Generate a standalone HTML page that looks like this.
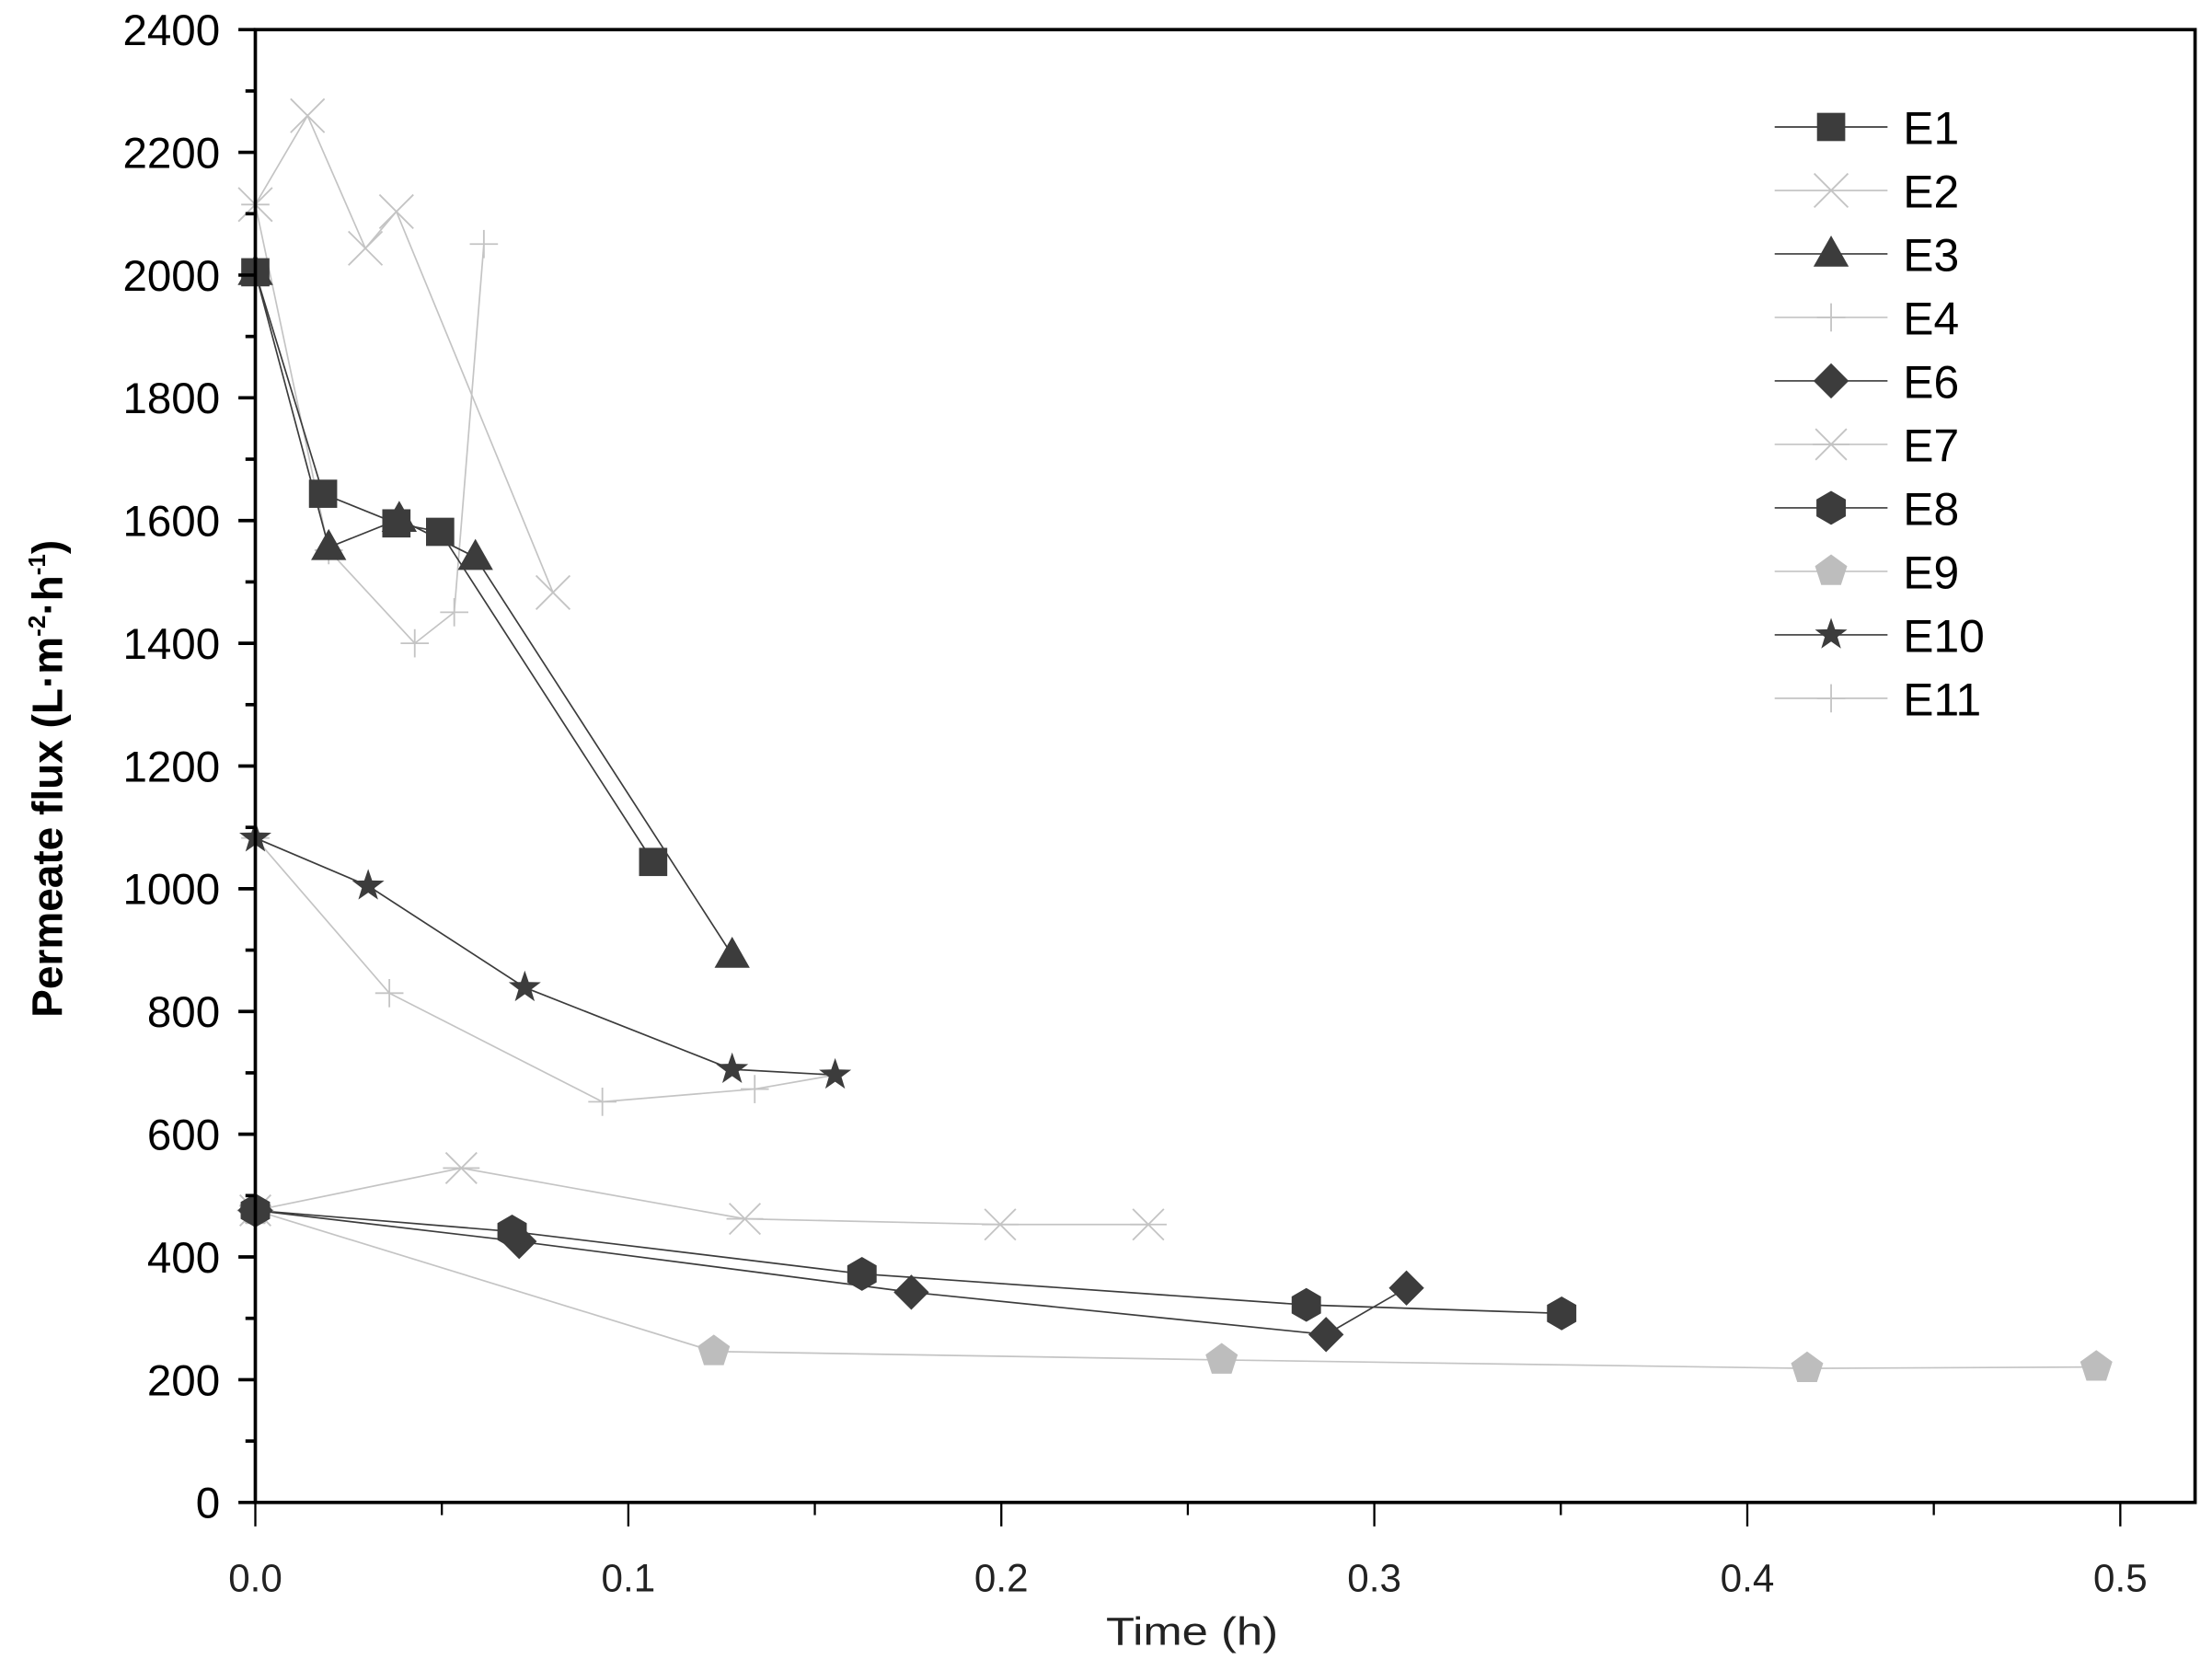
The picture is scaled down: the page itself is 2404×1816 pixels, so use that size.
<!DOCTYPE html>
<html><head><meta charset="utf-8"><style>
html,body{margin:0;padding:0;background:#fff}
svg{display:block}
text{font-family:"Liberation Sans",sans-serif}
</style></head><body>
<svg width="2404" height="1816" viewBox="0 0 1568 1184.5" preserveAspectRatio="none" xmlns="http://www.w3.org/2000/svg">
<defs>
<g id="sq"><rect x="-10" y="-10" width="20" height="20" fill="#3c3c3c"/></g>
<g id="xx" stroke="#c4c4c4" stroke-width="1.2"><line x1="-12" y1="-12" x2="12" y2="12"/><line x1="-12" y1="12" x2="12" y2="-12"/></g>
<g id="tri"><polygon points="0,-13 12.5,9 -12.5,9" fill="#3c3c3c"/></g>
<g id="pl" stroke="#c4c4c4" stroke-width="1.2"><line x1="-10" y1="0" x2="10" y2="0"/><line x1="0" y1="-10" x2="0" y2="10"/></g>
<g id="dia"><polygon points="0,-12.5 12.5,0 0,12.5 -12.5,0" fill="#3c3c3c"/></g>
<g id="ast" stroke="#c4c4c4" stroke-width="1.2"><line x1="-11" y1="-11" x2="11" y2="11"/><line x1="-11" y1="11" x2="11" y2="-11"/><line x1="-13" y1="0" x2="13" y2="0"/></g>
<g id="hex"><polygon points="0,-12 10.4,-6 10.4,6 0,12 -10.4,6 -10.4,-6" fill="#3c3c3c"/></g>
<g id="pent"><polygon points="0,-12 11.4,-3.7 7,9.7 -7,9.7 -11.4,-3.7" fill="#bdbdbd"/></g>
<g id="star"><polygon points="0,-12 2.8,-3.9 11.4,-3.7 4.5,1.5 7,9.7 0,4.8 -7,9.7 -4.5,1.5 -11.4,-3.7 -2.8,-3.9" fill="#3c3c3c"/></g>
</defs>

<g fill="none" stroke-width="1.1">
<polyline stroke="#c4c4c4" points="181,145 218,82 259,176 281,150 392,420"/>
<polyline stroke="#c4c4c4" points="181,145 233,390 294,456 322,434 343,173"/>
<polyline stroke="#c4c4c4" points="181,858 327,828 528,864 709,868 814,868"/>
<polyline stroke="#c4c4c4" points="181,858 506,958 866,964 1281,970 1486,969"/>
<polyline stroke="#c4c4c4" points="181,594 276,704 427,781 535,772 592,762"/>
<polyline stroke="#3c3c3c" points="181,193 229,350 281,371 312,377 463,611"/>
<polyline stroke="#3c3c3c" points="181,193 233,388 283,368 337,395 519,677"/>
<polyline stroke="#3c3c3c" points="181,858 368,880 646,916 940,946 997,913"/>
<polyline stroke="#3c3c3c" points="181,858 363,873 611,903 926,925 1107,931"/>
<polyline stroke="#3c3c3c" points="181,594 261,628 372,700 519,758 592,762"/>
</g>
<use href="#xx" x="181" y="145"/><use href="#xx" x="218" y="82"/><use href="#xx" x="259" y="176"/><use href="#xx" x="281" y="150"/><use href="#xx" x="392" y="420"/>
<use href="#pl" x="181" y="145"/><use href="#pl" x="233" y="390"/><use href="#pl" x="294" y="456"/><use href="#pl" x="322" y="434"/><use href="#pl" x="343" y="173"/>
<use href="#ast" x="181" y="858"/><use href="#ast" x="327" y="828"/><use href="#ast" x="528" y="864"/><use href="#ast" x="709" y="868"/><use href="#ast" x="814" y="868"/>
<use href="#pent" x="181" y="858"/><use href="#pent" x="506" y="958"/><use href="#pent" x="866" y="964"/><use href="#pent" x="1281" y="970"/><use href="#pent" x="1486" y="969"/>
<use href="#pl" x="181" y="594"/><use href="#pl" x="276" y="704"/><use href="#pl" x="427" y="781"/><use href="#pl" x="535" y="772"/>
<use href="#sq" x="181" y="193"/><use href="#sq" x="229" y="350"/><use href="#sq" x="281" y="371"/><use href="#sq" x="312" y="377"/><use href="#sq" x="463" y="611"/>
<use href="#tri" x="181" y="193"/><use href="#tri" x="233" y="388"/><use href="#tri" x="283" y="368"/><use href="#tri" x="337" y="395"/><use href="#tri" x="519" y="677"/>
<use href="#dia" x="181" y="858"/><use href="#dia" x="368" y="880"/><use href="#dia" x="646" y="916"/><use href="#dia" x="940" y="946"/><use href="#dia" x="997" y="913"/>
<use href="#hex" x="181" y="858"/><use href="#hex" x="363" y="873"/><use href="#hex" x="611" y="903"/><use href="#hex" x="926" y="925"/><use href="#hex" x="1107" y="931"/>
<use href="#star" x="181" y="594"/><use href="#star" x="261" y="628"/><use href="#star" x="372" y="700"/><use href="#star" x="519" y="758"/><use href="#star" x="592" y="762"/>

<rect x="181" y="21" width="1375" height="1044" fill="none" stroke="#000" stroke-width="2.4"/>
<g stroke="#000" stroke-width="2.4">
<line x1="169" y1="1065" x2="181" y2="1065"/><line x1="169" y1="978" x2="181" y2="978"/><line x1="169" y1="891" x2="181" y2="891"/><line x1="169" y1="804" x2="181" y2="804"/><line x1="169" y1="717" x2="181" y2="717"/><line x1="169" y1="630" x2="181" y2="630"/><line x1="169" y1="543" x2="181" y2="543"/><line x1="169" y1="456" x2="181" y2="456"/><line x1="169" y1="369" x2="181" y2="369"/><line x1="169" y1="282" x2="181" y2="282"/><line x1="169" y1="195" x2="181" y2="195"/><line x1="169" y1="108" x2="181" y2="108"/><line x1="169" y1="21" x2="181" y2="21"/>
<line x1="174" y1="1021.5" x2="181" y2="1021.5"/><line x1="174" y1="934.5" x2="181" y2="934.5"/><line x1="174" y1="847.5" x2="181" y2="847.5"/><line x1="174" y1="760.5" x2="181" y2="760.5"/><line x1="174" y1="673.5" x2="181" y2="673.5"/><line x1="174" y1="586.5" x2="181" y2="586.5"/><line x1="174" y1="499.5" x2="181" y2="499.5"/><line x1="174" y1="412.5" x2="181" y2="412.5"/><line x1="174" y1="325.5" x2="181" y2="325.5"/><line x1="174" y1="238.5" x2="181" y2="238.5"/><line x1="174" y1="151.5" x2="181" y2="151.5"/><line x1="174" y1="64.5" x2="181" y2="64.5"/>
</g>
<g stroke="#000" stroke-width="1.5">
<line x1="181" y1="1065" x2="181" y2="1082"/><line x1="445.4" y1="1065" x2="445.4" y2="1082"/><line x1="709.8" y1="1065" x2="709.8" y2="1082"/><line x1="974.2" y1="1065" x2="974.2" y2="1082"/><line x1="1238.6" y1="1065" x2="1238.6" y2="1082"/><line x1="1503" y1="1065" x2="1503" y2="1082"/>
<line x1="313.2" y1="1065" x2="313.2" y2="1074"/><line x1="577.6" y1="1065" x2="577.6" y2="1074"/><line x1="842" y1="1065" x2="842" y2="1074"/><line x1="1106.4" y1="1065" x2="1106.4" y2="1074"/><line x1="1370.8" y1="1065" x2="1370.8" y2="1074"/>
</g>
<g font-size="31" text-anchor="end">
<text x="156" y="1076">0</text><text x="156" y="989">200</text><text x="156" y="902">400</text><text x="156" y="815">600</text><text x="156" y="728">800</text><text x="156" y="641">1000</text><text x="156" y="554">1200</text><text x="156" y="467">1400</text><text x="156" y="380">1600</text><text x="156" y="293">1800</text><text x="156" y="206">2000</text><text x="156" y="119">2200</text><text x="156" y="32">2400</text>
</g>
<g font-size="27.5" text-anchor="middle" fill="#222">
<text x="181" y="1128">0.0</text>
<text x="445.4" y="1128">0.1</text>
<text x="709.8" y="1128">0.2</text>
<text x="974.2" y="1128">0.3</text>
<text x="1238.6" y="1128">0.4</text>
<text x="1503" y="1128">0.5</text>
<text x="845" y="1166" font-size="28" textLength="122" lengthAdjust="spacingAndGlyphs">Time (h)</text>
</g>
<text transform="translate(44,552) rotate(-90)" font-size="30" font-weight="bold" text-anchor="middle">Permeate flux (L·m<tspan dy="-12" font-size="17">-2</tspan><tspan dy="12">·h</tspan><tspan dy="-12" font-size="17">-1</tspan><tspan dy="12">)</tspan></text>

<g stroke-width="1.1">
<line x1="1258" y1="90" x2="1338" y2="90" stroke="#3c3c3c"/><line x1="1258" y1="135" x2="1338" y2="135" stroke="#c4c4c4"/><line x1="1258" y1="180" x2="1338" y2="180" stroke="#3c3c3c"/><line x1="1258" y1="225" x2="1338" y2="225" stroke="#c4c4c4"/><line x1="1258" y1="270" x2="1338" y2="270" stroke="#3c3c3c"/><line x1="1258" y1="315" x2="1338" y2="315" stroke="#c4c4c4"/><line x1="1258" y1="360" x2="1338" y2="360" stroke="#3c3c3c"/><line x1="1258" y1="405" x2="1338" y2="405" stroke="#c4c4c4"/><line x1="1258" y1="450" x2="1338" y2="450" stroke="#3c3c3c"/><line x1="1258" y1="495" x2="1338" y2="495" stroke="#c4c4c4"/>
</g>
<use href="#sq" x="1298" y="90"/><use href="#xx" x="1298" y="135"/><use href="#tri" x="1298" y="180"/><use href="#pl" x="1298" y="225"/><use href="#dia" x="1298" y="270"/><use href="#ast" x="1298" y="315"/><use href="#hex" x="1298" y="360"/><use href="#pent" x="1298" y="405"/><use href="#star" x="1298" y="450"/><use href="#pl" x="1298" y="495"/>
<g font-size="32.5">
<text x="1349" y="102">E1</text><text x="1349" y="147">E2</text><text x="1349" y="192">E3</text><text x="1349" y="237">E4</text><text x="1349" y="282">E6</text><text x="1349" y="327">E7</text><text x="1349" y="372">E8</text><text x="1349" y="417">E9</text><text x="1349" y="462">E10</text><text x="1349" y="507">E11</text>
</g>
</svg>
</body></html>
